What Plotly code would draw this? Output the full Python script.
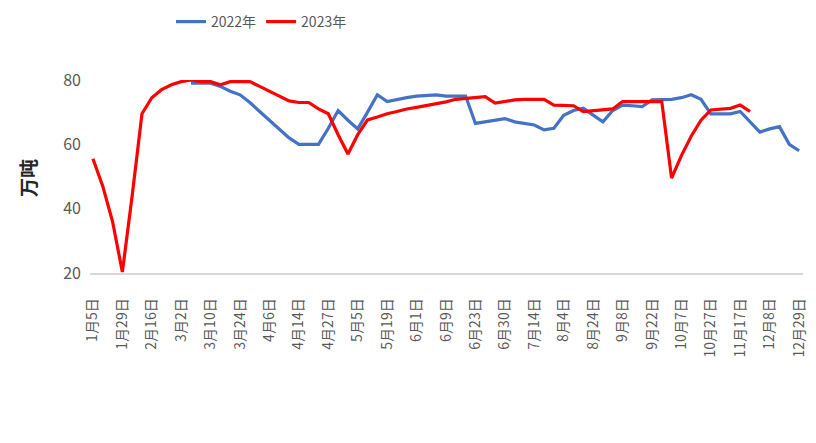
import plotly.graph_objects as go

categories = [
    "1月5日", "1月12日", "1月19日", "1月29日", "2月2日", "2月9日", "2月16日", "2月23日", "2月26日",
    "3月2日", "3月5日", "3月8日", "3月10日", "3月16日", "3月19日", "3月24日", "3月29日", "4月1日",
    "4月6日", "4月9日", "4月12日", "4月14日", "4月19日", "4月22日", "4月27日", "4月29日", "5月3日",
    "5月5日", "5月12日", "5月15日", "5月19日", "5月26日", "5月29日", "6月1日", "6月5日", "6月7日",
    "6月9日", "6月16日", "6月20日", "6月23日", "6月26日", "6月28日", "6月30日", "7月7日", "7月10日",
    "7月14日", "7月21日", "7月28日", "8月4日", "8月11日", "8月18日", "8月24日", "8月31日", "9月4日",
    "9月8日", "9月15日", "9月19日", "9月22日", "9月27日", "10月1日", "10月7日", "10月13日", "10月20日",
    "10月27日", "11月3日", "11月10日", "11月17日", "11月24日", "12月1日", "12月8日", "12月15日",
    "12月22日", "12月29日",
]

tick_labels = [
    "1月5日", "1月29日", "2月16日", "3月2日", "3月10日", "3月24日", "4月6日", "4月14日", "4月27日",
    "5月5日", "5月19日", "6月1日", "6月9日", "6月23日", "6月30日", "7月14日", "8月4日", "8月24日",
    "9月8日", "9月22日", "10月7日", "10月27日", "11月17日", "12月8日", "12月29日",
]

values_2022 = [
    None, None, None, None, None, None, None, None, None, None,
    79, 79, 79, 78, 76.5, 75.4, 73, 70.2, 67.5, 64.5,
    62, 60, 60, 60, 65, 70.5, 67.5, 64.8, 70, 75.4,
    73.3, 74, 74.5, 75, 75.2, 75.4, 75, 75, 75, 66.5,
    67, 67.5, 68, 67, 66.5, 66, 64.5, 65, 69, 70.5,
    71.2, 69, 67, 70.5, 72.2, 72, 71.7, 73.8, 74, 74,
    74.5, 75.4, 74, 69.5, 69.5, 69.5, 70.2, 67, 63.8, 64.8,
    65.5, 60, 58,
]

values_2023 = [
    55.5, 47, 36, 20.3, 44, 69.5, 74.5, 77, 78.5, 79.5,
    80, 79.5, 79.5, 78.5, 79.5, 79.5, 79.5, 78, 76.5, 75,
    73.5, 73, 73, 71, 69.5, 63, 57, 63, 67.6, 68.5,
    69.5, 70.2, 71, 71.5, 72, 72.5, 73.2, 74, 74.3, 74.5,
    74.8, 72.8, 73.3, 73.8, 74, 74, 74, 72.2, 72.2, 72,
    70.2, 70.5, 70.8, 71, 73.3, 73.3, 73.3, 73.3, 73.3, 49.5,
    56.5, 62.5, 67.5, 70.7, 71, 71.2, 72.2, 70.2,
    None, None, None, None, None,
]

# The page body has an 8px default margin; size the figure to fit the window.
W, H = 808, 435
L, T, R, B = 82, 72, 13, 170
plot_w = W - L - R
plot_h = H - T - B

fig = go.Figure()
fig.add_trace(go.Scatter(
    x=categories, y=values_2022, name="2022年", mode="lines",
    line=dict(color="#4472C4", width=3.2), connectgaps=False, cliponaxis=False,
))
fig.add_trace(go.Scatter(
    x=categories, y=values_2023, name="2023年", mode="lines",
    line=dict(color="#FF0000", width=3.2), connectgaps=False, cliponaxis=False,
))

fig.update_layout(
    width=W, height=H,
    margin=dict(l=L, r=R, t=T, b=B, autoexpand=False),
    paper_bgcolor="white", plot_bgcolor="white",
    font=dict(family="Noto Sans CJK SC, Noto Sans, sans-serif", color="#595959"),
    showlegend=True,
    legend=dict(
        orientation="h", x=(253.5 - L) / plot_w, xanchor="center",
        y=1 + (T - 14) / plot_h, yanchor="middle",
        font=dict(size=14, color="#595959"), itemwidth=30, tracegroupgap=0,
    ),
    xaxis=dict(
        type="category", categoryorder="array", categoryarray=categories,
        range=[-0.3, 72.4],
        tickmode="array", tickvals=tick_labels, ticktext=tick_labels,
        tickangle=-90, tickfont=dict(size=14, color="#595959"),
        showgrid=False, zeroline=False,
        showline=True, linecolor="#D9D9D9", linewidth=1.5,
        ticks="", ticklabelstandoff=18,
    ),
    yaxis=dict(
        range=[20, 80], tickvals=[20, 40, 60, 80],
        tickfont=dict(size=16, color="#595959"),
        showgrid=False, zeroline=False, showline=False,
        ticks="", ticklabelstandoff=8,
    ),
    annotations=[dict(
        text="<b>万吨</b>", xref="paper", yref="paper",
        x=(19 - L) / plot_w, y=(265 - 170) / plot_h,
        xanchor="center", yanchor="middle", textangle=-90, showarrow=False,
        font=dict(size=19, color="#262626"),
    )],
)

fig.write_html("out.html")
